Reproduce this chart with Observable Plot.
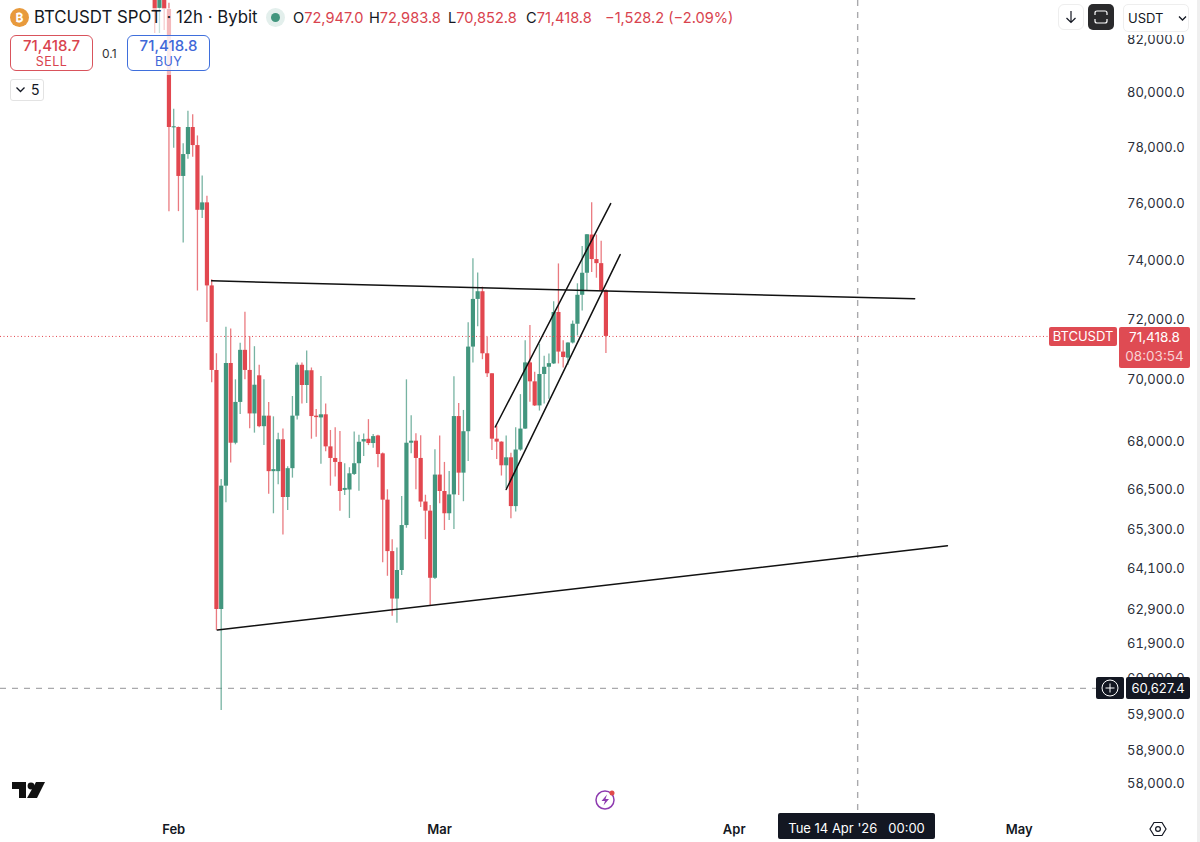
<!DOCTYPE html>
<html><head><meta charset="utf-8">
<script src="https://cdn.jsdelivr.net/npm/d3@7"></script>
<script src="https://cdn.jsdelivr.net/npm/@observablehq/plot@0.6"></script>
<style>
html,body{margin:0;padding:0;background:#fff;width:1200px;height:842px;overflow:hidden;font-family:Inter,"Liberation Sans",sans-serif;color:#131722}
#chart{position:absolute;left:0;top:0}
#chart svg{display:block}
.o{position:absolute;box-sizing:border-box;white-space:nowrap}
.r{color:#d9434e}
.q{font-size:14.6px;line-height:18px;top:9px}
</style></head><body>
<div id="chart"></div>
<div id="ui"></div>
<script>
const firstCandle = "2026-01-30T00:00Z";
const opens = [84200,83200,83900,83160,78700,78713,76940,77728,78713,78054,
75737,76000,73118,70297,62894,66610,70524,67955,69258,70958,
70297,68888,70122,68480,68817,67062,67062,68064,66260,67155,
68817,70466,69805,70287,68817,68760,68860,67840,67475,67350,
66480,66490,66975,67310,67995,68080,67945,68185,67620,66178,
64612,63200,64046,65400,67955,68020,67475,66120,65840,63814,
66955,66445,65760,66340,68804,67015,68320,71065,72660,72920,
70844,70188,68083,67990,67245,67495,65980,67740,68404,70544,
69925,69145,70165,70400,70510,72220,70900,70700,71200,71825,
72800,73550,74870,74020,73880,72947];
const highs = [84500,84400,84100,83400,79382,78730,78117,79308,79185,78405,
76955,76237,73327,70844,66820,71722,71668,69990,71193,72230,
71407,71078,70466,69990,69258,68794,68275,68404,67215,69450,
70544,70544,70935,70377,69030,70099,69206,68360,68445,68330,
67310,67185,68310,68210,68245,68705,68230,68210,67650,66497,
64973,64717,66290,69990,68827,68255,68190,66330,66015,67745,
68180,67350,67070,70090,69225,69000,71875,74045,73560,73075,
71385,70190,68505,68000,68180,67635,68445,69510,71275,71780,
70240,71160,70760,70835,72580,73870,71275,71210,71930,73190,
74475,74890,76000,74870,74650,72983.8];
const lows = [82235,82235,82350,75690,77957,75690,74595,77558,77630,72945,
75453,71881,69892,62282,60007,66098,67330,67905,68870,69990,
68417,68275,68449,67880,66362,65760,66655,65116,65862,66860,
68696,69206,69225,68083,68147,67290,67686,66610,66892,65840,
66321,65616,66945,66455,67535,67880,67795,67185,64278,63874,
62697,62490,63895,65318,67620,66497,65950,64973,63012,63780,
66070,65250,65555,65280,66321,66130,67380,70544,71745,70650,
70065,67725,67445,66925,66530,65610,65815,67700,68390,69260,
69130,68980,69206,69360,70490,70510,70377,70465,71170,71435,
72265,72945,73580,73380,72920,70852.8];
const closes = [83120,83900,83160,78713,78740,76940,77728,78713,78054,75737,
76000,73118,70297,62894,66610,70524,67955,69258,70958,70297,
68888,69815,68480,68817,67062,67125,68064,66260,67155,68817,
70466,69805,70287,68804,68770,68860,67840,67475,67350,66445,
66540,66995,67310,67985,68070,67945,68165,67600,66178,64612,
63200,64046,65400,67955,68020,67475,66120,65840,63814,66955,
66445,65760,66340,68804,67015,68320,71065,72660,72920,70844,
70188,68083,67990,67245,67495,65980,67740,68404,70544,69925,
69145,70165,70400,70520,72220,70900,70720,71200,71825,72800,
73550,74880,74020,73880,72947,71418.8];
const priceTicks = [82000,80000,78000,76000,74000,72000,70000,68000,66500,65300,64100,62900,61900,60900,59900,58900,58000];
const monthTicks = ["2026-02-01T00:00Z","2026-03-01T00:00Z","2026-04-01T00:00Z","2026-05-01T00:00Z"];
const monthLabels = ["Feb","Mar","Apr","May"];
const lastPrice = 71418.8;
const crossPrice = 60627.4;
const crossTime = "2026-04-14T00:00Z";
const trendLines = [
  [["2026-02-05T00:00Z",73290],["2026-04-20T00:00Z",72680]],
  [["2026-02-05T14:24Z",62295],["2026-04-23T10:48Z",64787]],
  [["2026-03-06T20:24Z",68470],["2026-03-19T00:00Z",75975]],
  [["2026-03-08T00:00Z",66506],["2026-03-20T00:00Z",74190]]
];
const RED="#e2474f", GREEN="#42967e";
const candles = opens.map((o,i)=>({date:d3.utcHour.offset(new Date(firstCandle),12*i),o,h:highs[i],l:lows[i],c:closes[i]}));
const colorOf = d=>d.c>=d.o?GREEN:RED;
const segs = trendLines.flatMap((l,k)=>l.map(([t,p])=>({k,t:new Date(t),p})));
const plot = Plot.plot({
  width:1200,height:842,marginLeft:0,marginRight:104,marginTop:0,marginBottom:32,
  style:{fontFamily:"Inter, sans-serif",background:"#fff",overflow:"hidden"},
  clip:true,
  x:{type:"utc",domain:[new Date("2026-01-13T18:27Z"),new Date("2026-05-09T03:24Z")],range:[0,1096]},
  y:{type:"log",domain:[57276,83507],range:[810,0]},
  marks:[
    Plot.ruleX([new Date(crossTime)],{stroke:"#a9a9ac",strokeWidth:1.4,strokeDasharray:"6 6"}),
    Plot.ruleY([crossPrice],{stroke:"#a9a9ac",strokeWidth:1.4,strokeDasharray:"6 6"}),
    Plot.ruleX(candles,{x:"date",y1:"l",y2:"h",stroke:colorOf,strokeWidth:1.3,strokeOpacity:.72}),
    Plot.ruleX(candles,{x:"date",y1:"o",y2:"c",stroke:colorOf,strokeWidth:4.2}),
    Plot.ruleY([lastPrice],{stroke:RED,strokeWidth:1,strokeDasharray:"1 2.5"}),
    Plot.line(segs,{x:"t",y:"p",z:"k",stroke:"#111",strokeWidth:1.5}),
    Plot.axisY(priceTicks,{anchor:"right",tickSize:0,tickPadding:30.5,dy:0.5,tickFormat:d3.format(",.1f"),fontSize:13,fill:"#2a2e39",label:null,clip:false}),
    Plot.axisX(monthTicks.map(d=>new Date(d)),{anchor:"bottom",tickSize:0,tickPadding:14,tickFormat:(d,i)=>monthLabels[i],fontSize:13,fontWeight:600,fill:"#131722",label:null,clip:false})
  ]
});
document.getElementById("chart").append(plot);
document.getElementById("ui").innerHTML = `
<div class="o" style="left:1197px;top:0;width:3px;height:842px;background:#efefef"></div>
<div class="o" style="left:0;top:8px;width:260px;height:67px;background:rgba(255,255,255,.62)"></div>
<div class="o" style="left:10px;top:8px;width:19px;height:19px;border-radius:50%;background:#e89a3c;color:#fff;font-size:12px;font-weight:700;line-height:19px;text-align:center">₿</div>
<div class="o" style="left:34px;top:7px;font-size:16.8px;line-height:21px;color:#131722">BTCUSDT SPOT · 12h · Bybit</div>
<div class="o" style="left:266px;top:8px;width:19px;height:19px;border-radius:50%;background:#e3efec"></div>
<div class="o" style="left:271px;top:13px;width:9px;height:9px;border-radius:50%;background:#42967e"></div>
<div class="o q" style="left:293px">O<span class="r">72,947.0</span></div>
<div class="o q" style="left:369px">H<span class="r">72,983.8</span></div>
<div class="o q" style="left:448px">L<span class="r">70,852.8</span></div>
<div class="o q" style="left:526px">C<span class="r">71,418.8</span></div>
<div class="o r q" style="left:605px">−1,528.2 (−2.09%)</div>
<div class="o" style="left:10px;top:35px;width:83px;height:36px;border:1px solid #d9535c;border-radius:6px;background:rgba(255,255,255,.75);text-align:center;color:#d9434e">
  <div style="font-size:15px;font-weight:500;line-height:17px;margin-top:1px">71,418.7</div><div style="font-size:12.5px;line-height:15px;letter-spacing:.4px">SELL</div></div>
<div class="o" style="left:102px;top:46px;font-size:12px;line-height:15px;color:#333">0.1</div>
<div class="o" style="left:127px;top:35px;width:83px;height:36px;border:1px solid #3f6fdc;border-radius:6px;background:rgba(255,255,255,.75);text-align:center;color:#3f68d8">
  <div style="font-size:15px;font-weight:500;line-height:17px;margin-top:1px">71,418.8</div><div style="font-size:12.5px;line-height:15px;letter-spacing:.4px">BUY</div></div>
<div class="o" style="left:10px;top:79px;width:34px;height:22px;border:1px solid #e3e3e3;border-radius:3px;background:#fff;font-size:14px;line-height:20px;padding-left:20px">5</div>
<svg class="o" style="left:15px;top:86px" width="12" height="8"><path d="M1.5 1.5 L5.5 5.5 L9.5 1.5" fill="none" stroke="#131722" stroke-width="1.3"/></svg>
<div class="o" style="left:1058px;top:4px;width:26px;height:26px;border:1px solid #eee;border-radius:6px;background:#fff"></div>
<svg class="o" style="left:1064px;top:10px" width="14" height="14"><path d="M7 1 V12.5 M2.5 8 L7 12.5 L11.5 8" fill="none" stroke="#131722" stroke-width="1.2"/></svg>
<div class="o" style="left:1088px;top:4px;width:26px;height:26px;border-radius:5px;background:#2a2a2c"></div>
<svg class="o" style="left:1094px;top:10px" width="14" height="14"><path d="M1 5 V3 Q1 1 3 1 H11 Q13 1 13 3 V5 M1 9 V11 Q1 13 3 13 H11 Q13 13 13 11 V9" fill="none" stroke="#fff" stroke-width="1.2"/></svg>
<div class="o" style="left:1123px;top:4px;width:66px;height:31px;background:#fff"></div>
<div class="o" style="left:1123px;top:4px;width:66px;height:28px;border:1px solid #eee;border-radius:5px;background:#fff;font-size:13px;line-height:26px;padding-left:4px">USDT</div>
<svg class="o" style="left:1178px;top:15px" width="9" height="7"><path d="M1 1.5 L4.5 5 L8 1.5" fill="none" stroke="#131722" stroke-width="1.3"/></svg>
<div class="o" style="left:1049px;top:327px;width:68px;height:19px;background:#df4b53;border-radius:2px;color:#fff;font-size:13px;line-height:19px;text-align:center">BTCUSDT</div>
<div class="o" style="left:1119px;top:327px;width:71px;height:41px;background:#df4b53;border-radius:2px;color:#fff;font-size:13.5px;line-height:19px;text-align:center;padding-top:1px">71,418.8<div style="color:#f8d3d5">08:03:54</div></div>
<div class="o" style="left:1096px;top:677px;width:28px;height:22px;background:#131722;border-radius:2px"></div>
<svg class="o" style="left:1101px;top:679px" width="18" height="18"><circle cx="9" cy="9" r="8" fill="none" stroke="#fff" stroke-width="1"/><path d="M9 4.5 V13.5 M4.5 9 H13.5" stroke="#fff" stroke-width="1"/></svg>
<div class="o" style="left:1126px;top:677px;width:64px;height:22px;background:#131722;border-radius:2px;color:#fff;font-size:13px;line-height:22px;text-align:center">60,627.4</div>
<div class="o" style="left:778px;top:813px;width:157px;height:26px;background:#131722;border-radius:2px;color:#fff;font-size:13px;line-height:30px;text-align:center;white-space:pre">Tue 14 Apr '26   00:00</div>
<svg class="o" style="left:12px;top:781px" width="34" height="18"><path d="M0 1 H14 V17 H7 V8 H0 Z M24 1 H33 L25 17 H15 Z" fill="#111"/><circle cx="19" cy="5" r="3.4" fill="#111"/></svg>
<svg class="o" style="left:593px;top:787px" width="26" height="26"><circle cx="12" cy="13" r="9" fill="none" stroke="#8e3bb0" stroke-width="1.5"/><path d="M14 7.5 L8.5 14 H12 L10.5 18.5 L16 12 H12.5 Z" fill="#8e3bb0"/><circle cx="19" cy="6" r="2.5" fill="#e04a4a"/></svg>
<svg class="o" style="left:1149px;top:820px" width="18" height="18"><path d="M5 2.5 H13 L17 9 L13 15.5 H5 L1 9 Z" fill="none" stroke="#131722" stroke-width="1.2"/><circle cx="9" cy="9" r="2.4" fill="none" stroke="#131722" stroke-width="1.2"/></svg>
`;
</script>
</body></html>
